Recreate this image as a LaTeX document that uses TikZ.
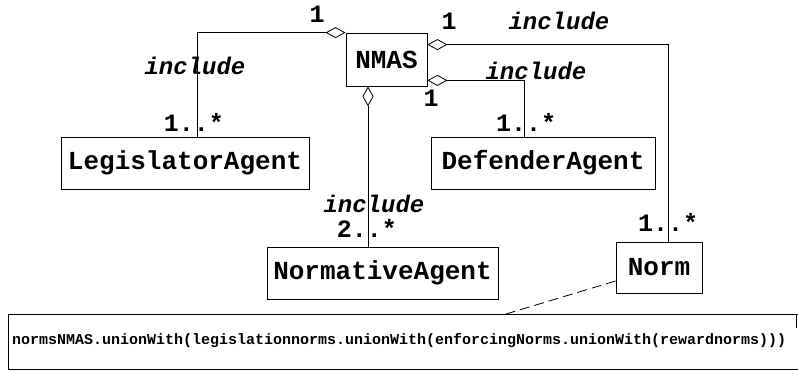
\documentclass[tikz,border=0pt]{standalone}
\usepackage{fontspec}
\setmainfont{Liberation Mono}
\usetikzlibrary{arrows.meta}
\begin{document}
\begin{tikzpicture}[x=1pt,y=-1pt,
  box/.style={draw,line width=0.8pt,inner sep=0pt,font=\fontsize{26}{26}\selectfont\bfseries},
  lbl/.style={font=\fontsize{24}{24}\selectfont\bfseries\itshape,inner sep=0pt,anchor=base},
  mult/.style={font=\fontsize{25}{25}\selectfont\bfseries,inner sep=0pt,anchor=base},
  agg/.style={draw,line width=0.8pt,{Diamond[open,length=20pt,width=11pt,line width=0.8pt]}-},
  notetext/.style={font=\fontsize{15}{15}\selectfont\bfseries,inner sep=0pt,anchor=west}
]
\useasboundingbox (0,0) rectangle (798,371);
\node[box,minimum width=81pt,minimum height=53pt] (nmas) at (386.5,59.5) {NMAS};
\node[box,minimum width=248pt,minimum height=52pt] (leg) at (185,163) {LegislatorAgent};
\node[box,minimum width=224pt,minimum height=52pt] (def) at (543,163) {DefenderAgent};
\node[box,minimum width=86pt,minimum height=51pt] (norm) at (659,267.5) {Norm};
\node[box,minimum width=231pt,minimum height=52pt] (nag) at (382.5,273) {NormativeAgent};

\draw[agg] (nmas.north west) -| ([xshift=12pt]leg.north);
\draw[agg] ([yshift=-12pt]nmas.north east) -| ([xshift=9pt]norm.north);
\draw[agg] ([yshift=6pt]nmas.south east) -| ([xshift=-19pt]def.north);
\draw[agg] ([xshift=-18.5pt]nmas.south) -- ([xshift=-14.5pt]nag.north);

\node[mult] (m1) at (317,23) {1};
\node[mult] (m2) at (449,30) {1};
\node[mult] (m3) at (431,107) {1};
\node[mult] (m4) at (194,132) {1..*};
\node[mult] (m5) at (526,132) {1..*};
\node[mult] (m6) at (367,238) {2..*};
\node[mult] (m7) at (668,232) {1..*};
\node[lbl] (l1) at (195,75) {include};
\node[lbl] (l2) at (559,30) {include};
\node[lbl] (l3) at (536,80) {include};
\node[lbl] (l4) at (374,213) {include};

\node[notetext] (note) at (12,341) {normsNMAS.unionWith(legislationnorms.unionWith(enforcingNorms.unionWith(rewardnorms)))};
\draw[line width=0.8pt] (798,314) -- (8,314) -- (8,369) -- (798,369);
\draw[line width=0.8pt] (796,314) -- (796,328);
\coordinate (nt) at (506,314);
\draw[line width=0.8pt,dash pattern=on 10pt off 5pt] ([yshift=-13.5pt]norm.west) -- (nt);
\end{tikzpicture}
\end{document}
